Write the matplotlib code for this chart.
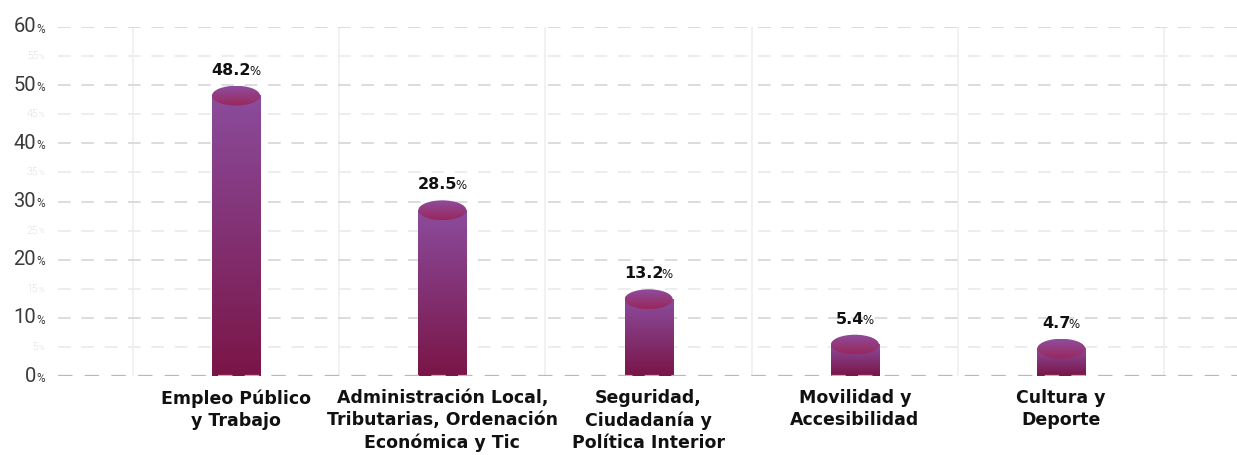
import numpy as np
import matplotlib.pyplot as plt
from matplotlib.colors import LinearSegmentedColormap
from matplotlib.patches import Ellipse

categories = ['Empleo Público\ny Trabajo',
              'Administración Local,\nTributarias, Ordenación\nEconómica y Tic',
              'Seguridad,\nCiudadanía y\nPolítica Interior',
              'Movilidad y\nAccesibilidad',
              'Cultura y\nDeporte']
values = [48.2, 28.5, 13.2, 5.4, 4.7]
major_ticks = [0, 10, 20, 30, 40, 50, 60]
minor_ticks = [5, 15, 25, 35, 45, 55]

plt.rcParams['font.family'] = ['DejaVu Sans']

W, H = 1237, 455
fig = plt.figure(figsize=(W / 100, H / 100), dpi=100)
ax = fig.add_axes([58 / W, 1 - 376 / H, (W - 58) / W, (376 - 27) / H])
ax.set_xlim(-0.863, 4.852)
ax.set_ylim(0, 60)
ax.axis('off')

# grid
dash = (0, (6.5, 5.5))
for i in range(6):
    ax.plot([i - 0.5, i - 0.5], [0, 60], color='#efefef', lw=1.2, zorder=0)
for t in major_ticks[1:]:
    ax.plot([-0.863, 4.852], [t, t], color='#dcdcdc', lw=1.4, ls=dash, zorder=0)
for t in minor_ticks:
    ax.plot([-0.863, 4.852], [t, t], color='#ededed', lw=1.4, ls=dash, zorder=0)
ax.plot([-0.863, 4.852], [0, 0], color='#b8b8b8', lw=1.6, ls=dash, zorder=5)

# y tick labels (pixel positions from the top)
def fy(t):
    return 1 - (376 - t * (349 / 60)) / H

tick_font = ['Roboto', 'DejaVu Sans']
for t in major_ticks:
    fig.text(36 / W, fy(t), str(t), ha='right', va='center', fontsize=14.5,
             color='#3a3a3a', fontweight='normal', family=tick_font)
    fig.text(36.5 / W, fy(t) - 0.005, '%', ha='left', va='center', fontsize=8.5,
             color='#3a3a3a', fontweight='normal', family=tick_font)
for t in minor_ticks:
    fig.text(38 / W, fy(t), str(t), ha='right', va='center', fontsize=7.5,
             color='#c4c4c4', fontweight='light', family=tick_font)
    fig.text(38.3 / W, fy(t) - 0.002, '%', ha='left', va='center', fontsize=5.5,
             color='#c4c4c4', fontweight='light', family=tick_font)

# cylinder bars
body_cmap = LinearSegmentedColormap.from_list('body', ['#7a1547', '#8b4c9d'])
top_cmap = LinearSegmentedColormap.from_list('top', ['#9a275b', '#8e4d9e'])
bw = 0.233
eh = 3.4
grad = np.linspace(0, 1, 256).reshape(-1, 1)
for i, v in enumerate(values):
    ax.imshow(grad, cmap=body_cmap, origin='lower', aspect='auto',
              extent=[i - bw / 2, i + bw / 2, 0, v], zorder=2)
    ell = Ellipse((i, v), bw, eh, facecolor='none', edgecolor='none')
    ax.add_patch(ell)
    im2 = ax.imshow(grad, cmap=top_cmap, origin='lower', aspect='auto',
                    extent=[i - bw / 2, i + bw / 2, v - eh / 2, v + eh / 2], zorder=3)
    im2.set_clip_path(ell)

ax.set_xlim(-0.863, 4.852)
ax.set_ylim(0, 60)

# value labels: bold number followed by a smaller %
fig.canvas.draw()
r = fig.canvas.get_renderer()
inv = ax.transData.inverted()
for i, v in enumerate(values):
    t1 = ax.text(i, v, f'{v:.1f}', fontsize=11.5, fontweight='bold', color='#111111',
                 ha='left', va='baseline')
    t2 = ax.text(i, v, '%', fontsize=8.5, color='#111111', ha='left', va='baseline')
    w1 = t1.get_window_extent(r).width
    w2 = t2.get_window_extent(r).width
    x0, y0 = ax.transData.transform((i, v))
    y0 += 21
    start = x0 - (w1 + w2 - 2) / 2
    t1.set_position(inv.transform((start, y0)))
    t2.set_position(inv.transform((start + w1 - 2, y0)))

# category labels
for i, c in enumerate(categories):
    x = (236 + 206.3 * i) / W
    fig.text(x, 1 - 389 / H, c, ha='center', va='top', fontsize=12.5,
             fontweight='bold', color='#111111', linespacing=1.3)

fig.savefig('out.png', dpi=100)
